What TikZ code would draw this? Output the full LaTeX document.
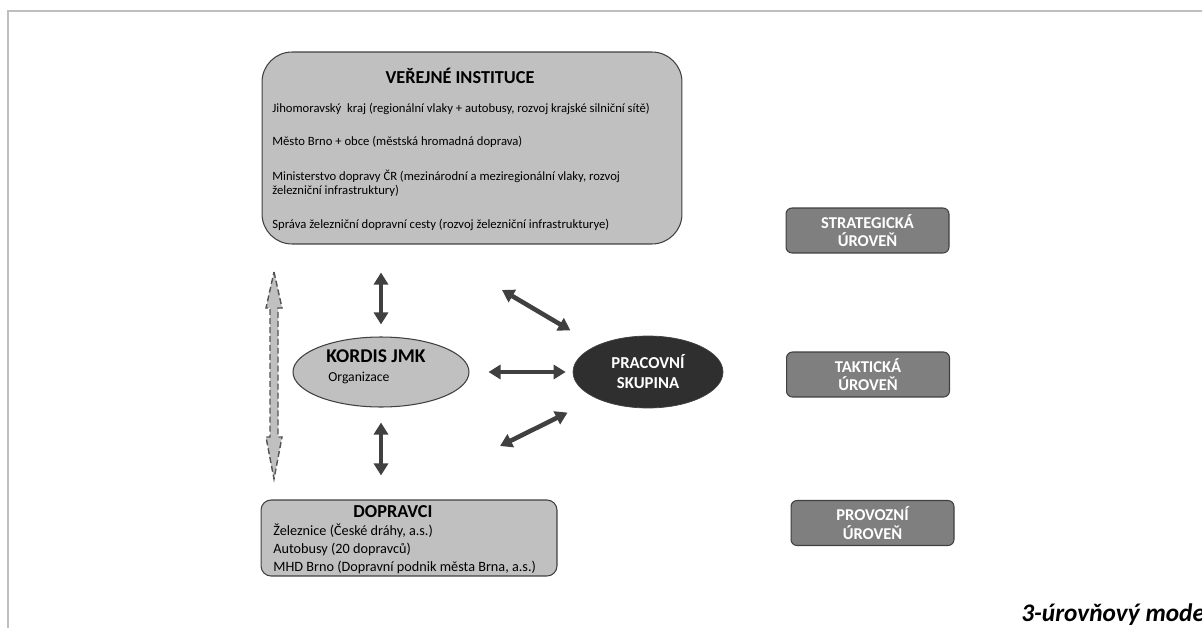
\documentclass[tikz,border=0pt]{standalone}
\usepackage{fontspec}
\setmainfont{Carlito}
\usepackage{xcolor}
\usepackage{tikz}
\usetikzlibrary{arrows.meta}
\usetikzlibrary{positioning}
\usetikzlibrary{shapes.geometric}

\definecolor{svetla}{HTML}{C0C0C0}
\definecolor{tmava}{HTML}{404040}
\definecolor{uroven}{HTML}{7F7F7F}
\definecolor{skupinac}{HTML}{2F2F2F}
\definecolor{ramec}{HTML}{BFBFBF}

\begin{document}
\begin{tikzpicture}[x=0.02cm, y=-0.02cm,
        box/.style={draw=tmava, fill=svetla, rounded corners=0.6cm, line width=0.6pt},
        levelbox/.style={draw=tmava, fill=uroven, rounded corners=0.12cm, minimum width=3.26cm, minimum height=0.9cm, align=center, text=white, font=\bfseries\fontsize{9.4}{10.4}\selectfont, inner sep=0pt, line width=0.6pt},
        title/.style={inner sep=0pt, font=\bfseries\fontsize{10.4}{12}\selectfont},
        body/.style={anchor=west, inner sep=0pt, font=\fontsize{7.2}{8}\selectfont, align=left},
        bodyb/.style={anchor=west, inner sep=0pt, font=\fontsize{8.1}{9.5}\selectfont},
        dblarrow/.style={draw=tmava, line width=2.6pt, {Triangle[length=0.24cm,width=0.28cm]}-{Triangle[length=0.24cm,width=0.28cm]}}]
        \useasboundingbox (0,0) rectangle (1202,628);
        \clip (0,0) rectangle (1202,628);
        \draw[ramec, line width=1.2pt] (8,628) -- (8,11) -- (1202,11);

        % verejne instituce
        \node[box, minimum width=8.4cm, minimum height=3.84cm] (verejne) at (472,148) {};
        \node[title] (verejnetit) at (460,76) {VEŘEJNÉ INSTITUCE};
        \node[body] (jmk) at (272,109) {Jihomoravský\ \ kraj (regionální vlaky + autobusy, rozvoj krajské silniční sítě)};
        \node[body] (brno) at (272,142) {Město Brno + obce (městská hromadná doprava)};
        \node[body] (md) at (272,183) {Ministerstvo dopravy ČR (mezinárodní a meziregionální vlaky, rozvoj\\železniční infrastruktury)};
        \node[body] (szdc) at (272,225) {Správa železniční dopravní cesty (rozvoj železniční infrastrukturye)};

        % kordis a pracovni skupina
        \node[ellipse, draw=tmava, fill=svetla, minimum width=3.52cm, minimum height=1.4cm, inner sep=0pt, line width=0.6pt] (kordis) at (381,372) {};
        \node[anchor=west, inner sep=0pt, font=\bfseries\fontsize{11.1}{13}\selectfont] (kordistit) at (326,356) {KORDIS JMK};
        \node[anchor=west, inner sep=0pt, font=\fontsize{7.8}{9}\selectfont] (org) at (328,378) {Organizace};
        \node[ellipse, draw=tmava, fill=skupinac, minimum width=3cm, minimum height=1.44cm, text=white, font=\bfseries\fontsize{9.5}{11.4}\selectfont, align=center, inner sep=0pt] (skupina) at (648,372) {PRACOVNÍ\\SKUPINA};

        % dopravci
        \node[box, rounded corners=0.2cm, minimum width=5.92cm, minimum height=1.52cm] (dopravci) at (409,538) {};
        \node[title] (dopravcitit) at (393,512) {DOPRAVCI};
        \node[bodyb] (zel) at (273,531) {Železnice (České dráhy, a.s.)};
        \node[bodyb] (aut) at (273,549) {Autobusy (20 dopravců)};
        \node[bodyb] (mhd) at (273,567) {MHD Brno (Dopravní podnik města Brna, a.s.)};

        % urovne
        \node[levelbox] (strat) at (867.5,230.5) {STRATEGICKÁ\\ÚROVEŇ};
        \node[levelbox] (takt) at (868,374.5) {TAKTICKÁ\\ÚROVEŇ};
        \node[levelbox] (prov) at (872.5,523) {PROVOZNÍ\\ÚROVEŇ};

        % sipky
        \coordinate (horni) at (502,290);
        \coordinate (dolni) at (500,446);
        \draw[dblarrow, shorten <=0.56cm, shorten >=0.24cm] (kordis.north |- verejne.south) -- (kordis.north);
        \draw[dblarrow, shorten <=0.3cm, shorten >=0.48cm] (kordis.south) -- (kordis.south |- dopravci.north);
        \draw[dblarrow, shorten <=0.38cm, shorten >=0.14cm] (kordis.east) -- (skupina.west);
        \draw[dblarrow, shorten >=0.6cm] (horni) -- (skupina.153);
        \draw[dblarrow, shorten >=0.64cm] (dolni) -- (skupina.207);

        % prerusovana sipka
        \coordinate (lvhore) at (274,272);
        \coordinate (lvdole) at (274,479);
        \draw[dash pattern=on 3.4pt off 1.7pt, draw=tmava!90, fill=svetla, line width=0.8pt] (lvhore) -- (282,308) -- (278,308) -- (278,437) -- (282,437) -- (lvdole) -- (266,437) -- (270,437) -- (270,308) -- (266,308) -- cycle;

        \node[anchor=base west, inner sep=0pt, font=\bfseries\itshape\fontsize{14.4}{16}\selectfont] (popis) at (1021,621) {3-úrovňový model};
    \end{tikzpicture}
\end{document}
